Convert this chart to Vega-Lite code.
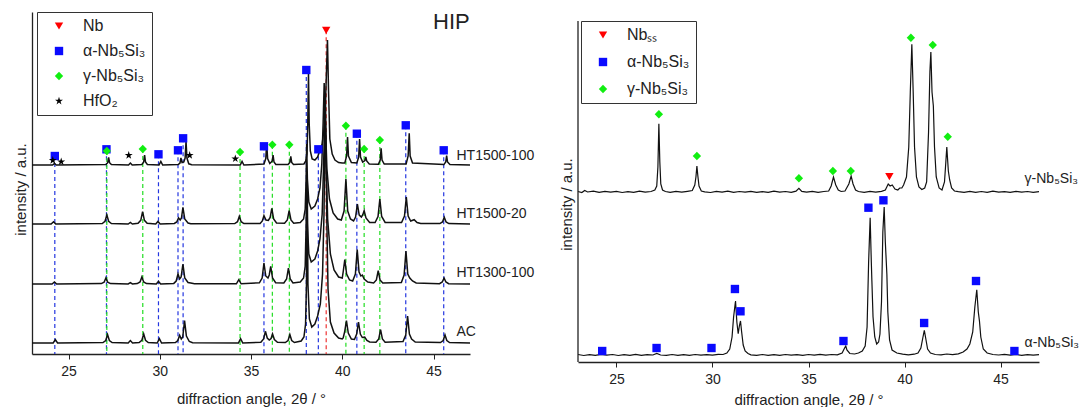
{
  "$schema": "https://vega.github.io/schema/vega-lite/v6.json",
  "background": "white",
  "padding": {"left": 13, "top": 11, "right": 0, "bottom": 0},
  "config": {
    "view": {"stroke": null},
    "font": "Liberation Sans",
    "axis": {"domainColor": "#222", "tickColor": "#222", "labelColor": "#222", "titleColor": "#222", "labelFontSize": 14, "titleFontSize": 15, "titleFontWeight": "normal", "grid": false, "domainWidth": 1.3, "tickWidth": 1, "tickSize": 5},
    "legend": {"strokeColor": "#333", "fillColor": "white", "padding": 6, "symbolOffset": 8, "labelOffset": 16, "rowPadding": 9, "labelFontSize": 16, "labelColor": "#222", "symbolSize": 70, "labelLimit": 200}
  },
  "datasets": {
    "leftCurves": [
      {"s":"HT1500-100","x":23,"v":189},{"s":"HT1500-100","x":24.13,"v":189},{"s":"HT1500-100","x":24.23,"v":190.5},{"s":"HT1500-100","x":24.33,"v":189},
      {"s":"HT1500-100","x":27.05,"v":189.4},{"s":"HT1500-100","x":27.15,"v":191.3},{"s":"HT1500-100","x":27.2,"v":196.6},{"s":"HT1500-100","x":27.25,"v":191.3},{"s":"HT1500-100","x":27.35,"v":189.4},
      {"s":"HT1500-100","x":28.29,"v":189},{"s":"HT1500-100","x":28.39,"v":191},{"s":"HT1500-100","x":28.49,"v":189},
      {"s":"HT1500-100","x":29.02,"v":189.5},{"s":"HT1500-100","x":29.12,"v":192},{"s":"HT1500-100","x":29.17,"v":199},{"s":"HT1500-100","x":29.22,"v":192},{"s":"HT1500-100","x":29.32,"v":189.5},
      {"s":"HT1500-100","x":29.96,"v":189},{"s":"HT1500-100","x":30.06,"v":192.6},{"s":"HT1500-100","x":30.16,"v":189},
      {"s":"HT1500-100","x":31.01,"v":189.4},{"s":"HT1500-100","x":31.11,"v":191},{"s":"HT1500-100","x":31.16,"v":196},{"s":"HT1500-100","x":31.22,"v":191.5},{"s":"HT1500-100","x":31.32,"v":192},{"s":"HT1500-100","x":31.39,"v":196},{"s":"HT1500-100","x":31.44,"v":212.6},{"s":"HT1500-100","x":31.49,"v":196},{"s":"HT1500-100","x":31.59,"v":190.2},{"s":"HT1500-100","x":31.75,"v":189.3},
      {"s":"HT1500-100","x":34.41,"v":189},{"s":"HT1500-100","x":34.51,"v":192.6},{"s":"HT1500-100","x":34.61,"v":189},
      {"s":"HT1500-100","x":35.71,"v":190},{"s":"HT1500-100","x":35.81,"v":195.5},{"s":"HT1500-100","x":35.86,"v":210.6},{"s":"HT1500-100","x":35.91,"v":195.5},{"s":"HT1500-100","x":36.03,"v":190.5},{"s":"HT1500-100","x":36.11,"v":192},{"s":"HT1500-100","x":36.16,"v":193},{"s":"HT1500-100","x":36.21,"v":199},{"s":"HT1500-100","x":36.26,"v":192},{"s":"HT1500-100","x":36.36,"v":189.5},
      {"s":"HT1500-100","x":37.03,"v":189.4},{"s":"HT1500-100","x":37.13,"v":191.6},{"s":"HT1500-100","x":37.18,"v":197.6},{"s":"HT1500-100","x":37.23,"v":191.6},{"s":"HT1500-100","x":37.33,"v":189.4},
      {"s":"HT1500-100","x":37.9,"v":190},{"s":"HT1500-100","x":38.0,"v":193},{"s":"HT1500-100","x":38.07,"v":200},{"s":"HT1500-100","x":38.11,"v":230},{"s":"HT1500-100","x":38.15,"v":280},{"s":"HT1500-100","x":38.19,"v":230},{"s":"HT1500-100","x":38.25,"v":203},{"s":"HT1500-100","x":38.35,"v":195},{"s":"HT1500-100","x":38.5,"v":194},{"s":"HT1500-100","x":38.65,"v":197},{"s":"HT1500-100","x":38.78,"v":204},{"s":"HT1500-100","x":38.9,"v":210},{"s":"HT1500-100","x":39.0,"v":225},{"s":"HT1500-100","x":39.1,"v":262},{"s":"HT1500-100","x":39.19,"v":314},{"s":"HT1500-100","x":39.25,"v":262},{"s":"HT1500-100","x":39.32,"v":215},{"s":"HT1500-100","x":39.45,"v":200},{"s":"HT1500-100","x":39.6,"v":194},{"s":"HT1500-100","x":39.8,"v":191.5},{"s":"HT1500-100","x":40.0,"v":191},
      {"s":"HT1500-100","x":40.14,"v":191},{"s":"HT1500-100","x":40.24,"v":198},{"s":"HT1500-100","x":40.29,"v":217},{"s":"HT1500-100","x":40.34,"v":198},{"s":"HT1500-100","x":40.5,"v":191.5},
      {"s":"HT1500-100","x":40.8,"v":191},{"s":"HT1500-100","x":40.9,"v":197},{"s":"HT1500-100","x":40.95,"v":215},{"s":"HT1500-100","x":41.0,"v":197},{"s":"HT1500-100","x":41.12,"v":192},{"s":"HT1500-100","x":41.24,"v":193.5},{"s":"HT1500-100","x":41.29,"v":197},{"s":"HT1500-100","x":41.34,"v":193},{"s":"HT1500-100","x":41.48,"v":190},
      {"s":"HT1500-100","x":41.98,"v":189.8},{"s":"HT1500-100","x":42.08,"v":194},{"s":"HT1500-100","x":42.13,"v":205.6},{"s":"HT1500-100","x":42.18,"v":194},{"s":"HT1500-100","x":42.3,"v":190},
      {"s":"HT1500-100","x":43.5,"v":190},{"s":"HT1500-100","x":43.61,"v":198},{"s":"HT1500-100","x":43.67,"v":220.6},{"s":"HT1500-100","x":43.72,"v":198},{"s":"HT1500-100","x":43.85,"v":191},
      {"s":"HT1500-100","x":45.57,"v":189.4},{"s":"HT1500-100","x":45.67,"v":192},{"s":"HT1500-100","x":45.72,"v":198.3},{"s":"HT1500-100","x":45.77,"v":192},{"s":"HT1500-100","x":45.9,"v":189.4},{"s":"HT1500-100","x":47,"v":189},

      {"s":"HT1500-20","x":23,"v":130},{"s":"HT1500-20","x":24.05,"v":130},{"s":"HT1500-20","x":24.18,"v":132.3},{"s":"HT1500-20","x":24.3,"v":130},
      {"s":"HT1500-20","x":26.85,"v":130.5},{"s":"HT1500-20","x":27.0,"v":132.7},{"s":"HT1500-20","x":27.1,"v":139},{"s":"HT1500-20","x":27.2,"v":132.7},{"s":"HT1500-20","x":27.35,"v":130.5},
      {"s":"HT1500-20","x":28.27,"v":130},{"s":"HT1500-20","x":28.39,"v":131.5},{"s":"HT1500-20","x":28.5,"v":130},
      {"s":"HT1500-20","x":28.81,"v":130.7},{"s":"HT1500-20","x":28.96,"v":133.7},{"s":"HT1500-20","x":29.06,"v":142.3},{"s":"HT1500-20","x":29.16,"v":133.7},{"s":"HT1500-20","x":29.31,"v":130.7},
      {"s":"HT1500-20","x":29.78,"v":130},{"s":"HT1500-20","x":29.9,"v":132.6},{"s":"HT1500-20","x":30.02,"v":130},
      {"s":"HT1500-20","x":30.8,"v":130.5},{"s":"HT1500-20","x":30.93,"v":132},{"s":"HT1500-20","x":31.03,"v":136},{"s":"HT1500-20","x":31.12,"v":134},{"s":"HT1500-20","x":31.19,"v":136},{"s":"HT1500-20","x":31.27,"v":146.6},{"s":"HT1500-20","x":31.37,"v":135},{"s":"HT1500-20","x":31.55,"v":131},{"s":"HT1500-20","x":31.7,"v":130.3},
      {"s":"HT1500-20","x":34.11,"v":130.4},{"s":"HT1500-20","x":34.26,"v":132.3},{"s":"HT1500-20","x":34.36,"v":137.6},{"s":"HT1500-20","x":34.46,"v":132.3},{"s":"HT1500-20","x":34.61,"v":130.4},
      {"s":"HT1500-20","x":35.5,"v":130.5},{"s":"HT1500-20","x":35.62,"v":133},{"s":"HT1500-20","x":35.71,"v":138.3},{"s":"HT1500-20","x":35.82,"v":134},{"s":"HT1500-20","x":35.95,"v":133.5},{"s":"HT1500-20","x":36.05,"v":136.5},{"s":"HT1500-20","x":36.14,"v":145.6},{"s":"HT1500-20","x":36.24,"v":135},{"s":"HT1500-20","x":36.4,"v":131},
      {"s":"HT1500-20","x":36.84,"v":130.8},{"s":"HT1500-20","x":36.99,"v":134},{"s":"HT1500-20","x":37.09,"v":143.3},{"s":"HT1500-20","x":37.19,"v":134},{"s":"HT1500-20","x":37.34,"v":130.8},
      {"s":"HT1500-20","x":37.7,"v":131.5},{"s":"HT1500-20","x":37.88,"v":135},{"s":"HT1500-20","x":37.97,"v":145},{"s":"HT1500-20","x":38.02,"v":175},{"s":"HT1500-20","x":38.05,"v":210},{"s":"HT1500-20","x":38.09,"v":175},{"s":"HT1500-20","x":38.17,"v":152},{"s":"HT1500-20","x":38.3,"v":145},{"s":"HT1500-20","x":38.5,"v":148},{"s":"HT1500-20","x":38.65,"v":155},{"s":"HT1500-20","x":38.78,"v":166},{"s":"HT1500-20","x":38.88,"v":190},{"s":"HT1500-20","x":38.95,"v":230},{"s":"HT1500-20","x":39.01,"v":271},{"s":"HT1500-20","x":39.08,"v":230},{"s":"HT1500-20","x":39.16,"v":185},{"s":"HT1500-20","x":39.3,"v":155},{"s":"HT1500-20","x":39.5,"v":141},{"s":"HT1500-20","x":39.75,"v":135},{"s":"HT1500-20","x":39.95,"v":134},
      {"s":"HT1500-20","x":40.1,"v":143},{"s":"HT1500-20","x":40.2,"v":175},{"s":"HT1500-20","x":40.3,"v":143},{"s":"HT1500-20","x":40.45,"v":135},
      {"s":"HT1500-20","x":40.62,"v":133},{"s":"HT1500-20","x":40.73,"v":137},{"s":"HT1500-20","x":40.83,"v":150},{"s":"HT1500-20","x":40.93,"v":139},{"s":"HT1500-20","x":41.05,"v":137},{"s":"HT1500-20","x":41.12,"v":139},{"s":"HT1500-20","x":41.2,"v":143.3},{"s":"HT1500-20","x":41.3,"v":136},{"s":"HT1500-20","x":41.5,"v":131.5},
      {"s":"HT1500-20","x":41.8,"v":131.5},{"s":"HT1500-20","x":41.96,"v":137.5},{"s":"HT1500-20","x":42.06,"v":155},{"s":"HT1500-20","x":42.16,"v":137.5},{"s":"HT1500-20","x":42.35,"v":131.5},
      {"s":"HT1500-20","x":43.25,"v":131.5},{"s":"HT1500-20","x":43.41,"v":138},{"s":"HT1500-20","x":43.51,"v":157},{"s":"HT1500-20","x":43.61,"v":138},{"s":"HT1500-20","x":43.75,"v":133},{"s":"HT1500-20","x":43.94,"v":134.3},{"s":"HT1500-20","x":44.1,"v":131.5},{"s":"HT1500-20","x":44.3,"v":130.5},
      {"s":"HT1500-20","x":45.35,"v":130.4},{"s":"HT1500-20","x":45.49,"v":132},{"s":"HT1500-20","x":45.59,"v":136.6},{"s":"HT1500-20","x":45.69,"v":132},{"s":"HT1500-20","x":45.84,"v":130.4},{"s":"HT1500-20","x":47,"v":130},

      {"s":"HT1300-100","x":23,"v":70},{"s":"HT1300-100","x":24.1,"v":70},{"s":"HT1300-100","x":24.23,"v":72},{"s":"HT1300-100","x":24.35,"v":70},
      {"s":"HT1300-100","x":26.8,"v":70.4},{"s":"HT1300-100","x":26.95,"v":71.8},{"s":"HT1300-100","x":27.05,"v":76},{"s":"HT1300-100","x":27.15,"v":71.8},{"s":"HT1300-100","x":27.3,"v":70.4},
      {"s":"HT1300-100","x":28.27,"v":70},{"s":"HT1300-100","x":28.39,"v":71.3},{"s":"HT1300-100","x":28.5,"v":70},
      {"s":"HT1300-100","x":28.77,"v":70.4},{"s":"HT1300-100","x":28.92,"v":72.1},{"s":"HT1300-100","x":29.02,"v":77},{"s":"HT1300-100","x":29.12,"v":72.1},{"s":"HT1300-100","x":29.27,"v":70.4},
      {"s":"HT1300-100","x":29.81,"v":70},{"s":"HT1300-100","x":29.93,"v":72.5},{"s":"HT1300-100","x":30.05,"v":70},
      {"s":"HT1300-100","x":30.77,"v":70.6},{"s":"HT1300-100","x":30.9,"v":73},{"s":"HT1300-100","x":31.0,"v":80},{"s":"HT1300-100","x":31.09,"v":75},{"s":"HT1300-100","x":31.17,"v":77},{"s":"HT1300-100","x":31.27,"v":90},{"s":"HT1300-100","x":31.37,"v":76},{"s":"HT1300-100","x":31.55,"v":71.5},{"s":"HT1300-100","x":31.7,"v":71},{"s":"HT1300-100","x":31.9,"v":70.3},
      {"s":"HT1300-100","x":34.2,"v":70.2},{"s":"HT1300-100","x":34.33,"v":74.3},{"s":"HT1300-100","x":34.46,"v":70.2},
      {"s":"HT1300-100","x":35.46,"v":71.2},{"s":"HT1300-100","x":35.61,"v":76},{"s":"HT1300-100","x":35.71,"v":91},{"s":"HT1300-100","x":35.81,"v":78},{"s":"HT1300-100","x":35.93,"v":76},{"s":"HT1300-100","x":36.0,"v":79},{"s":"HT1300-100","x":36.08,"v":87.6},{"s":"HT1300-100","x":36.18,"v":76},{"s":"HT1300-100","x":36.35,"v":71.3},
      {"s":"HT1300-100","x":36.8,"v":71},{"s":"HT1300-100","x":36.95,"v":75},{"s":"HT1300-100","x":37.05,"v":86},{"s":"HT1300-100","x":37.15,"v":75},{"s":"HT1300-100","x":37.3,"v":71},
      {"s":"HT1300-100","x":37.7,"v":72},{"s":"HT1300-100","x":37.88,"v":76},{"s":"HT1300-100","x":37.97,"v":88},{"s":"HT1300-100","x":38.02,"v":130},{"s":"HT1300-100","x":38.05,"v":175},{"s":"HT1300-100","x":38.09,"v":130},{"s":"HT1300-100","x":38.17,"v":100},{"s":"HT1300-100","x":38.3,"v":92},{"s":"HT1300-100","x":38.5,"v":95},{"s":"HT1300-100","x":38.65,"v":103},{"s":"HT1300-100","x":38.78,"v":115},{"s":"HT1300-100","x":38.9,"v":140},{"s":"HT1300-100","x":38.98,"v":190},{"s":"HT1300-100","x":39.05,"v":245},{"s":"HT1300-100","x":39.12,"v":190},{"s":"HT1300-100","x":39.2,"v":135},{"s":"HT1300-100","x":39.35,"v":100},{"s":"HT1300-100","x":39.55,"v":84},{"s":"HT1300-100","x":39.8,"v":77},{"s":"HT1300-100","x":40.0,"v":76},
      {"s":"HT1300-100","x":40.05,"v":82},{"s":"HT1300-100","x":40.14,"v":94.4},{"s":"HT1300-100","x":40.24,"v":80},{"s":"HT1300-100","x":40.4,"v":74},
      {"s":"HT1300-100","x":40.57,"v":73},{"s":"HT1300-100","x":40.72,"v":80},{"s":"HT1300-100","x":40.82,"v":104.4},{"s":"HT1300-100","x":40.92,"v":82},{"s":"HT1300-100","x":41.02,"v":78},{"s":"HT1300-100","x":41.1,"v":79},{"s":"HT1300-100","x":41.2,"v":75},{"s":"HT1300-100","x":41.4,"v":72},
      {"s":"HT1300-100","x":41.72,"v":71},{"s":"HT1300-100","x":41.87,"v":74},{"s":"HT1300-100","x":41.97,"v":83.4},{"s":"HT1300-100","x":42.07,"v":74},{"s":"HT1300-100","x":42.22,"v":71},
      {"s":"HT1300-100","x":43.24,"v":71.5},{"s":"HT1300-100","x":43.39,"v":79},{"s":"HT1300-100","x":43.49,"v":103},{"s":"HT1300-100","x":43.59,"v":80},{"s":"HT1300-100","x":43.7,"v":76},{"s":"HT1300-100","x":43.85,"v":73},{"s":"HT1300-100","x":44.05,"v":71},
      {"s":"HT1300-100","x":45.33,"v":70.3},{"s":"HT1300-100","x":45.48,"v":72},{"s":"HT1300-100","x":45.58,"v":76},{"s":"HT1300-100","x":45.68,"v":72},{"s":"HT1300-100","x":45.83,"v":70.3},{"s":"HT1300-100","x":47,"v":70},

      {"s":"AC","x":23,"v":11},{"s":"AC","x":24.16,"v":11},{"s":"AC","x":24.28,"v":14.3},{"s":"AC","x":24.4,"v":11},
      {"s":"AC","x":26.89,"v":11.5},{"s":"AC","x":27.04,"v":13.5},{"s":"AC","x":27.14,"v":19.4},{"s":"AC","x":27.24,"v":13.5},{"s":"AC","x":27.39,"v":11.5},
      {"s":"AC","x":28.27,"v":11},{"s":"AC","x":28.39,"v":13.4},{"s":"AC","x":28.51,"v":11},
      {"s":"AC","x":28.87,"v":11.5},{"s":"AC","x":29.02,"v":13.7},{"s":"AC","x":29.12,"v":20},{"s":"AC","x":29.22,"v":13.7},{"s":"AC","x":29.37,"v":11.5},
      {"s":"AC","x":29.86,"v":11},{"s":"AC","x":29.98,"v":15.4},{"s":"AC","x":30.1,"v":11},
      {"s":"AC","x":30.86,"v":11.5},{"s":"AC","x":30.99,"v":13.5},{"s":"AC","x":31.09,"v":18.7},{"s":"AC","x":31.18,"v":15},{"s":"AC","x":31.26,"v":17},{"s":"AC","x":31.36,"v":33.4},{"s":"AC","x":31.46,"v":18},{"s":"AC","x":31.62,"v":12.5},{"s":"AC","x":31.8,"v":11.3},
      {"s":"AC","x":34.31,"v":11},{"s":"AC","x":34.43,"v":15.4},{"s":"AC","x":34.55,"v":11},
      {"s":"AC","x":35.54,"v":11.7},{"s":"AC","x":35.69,"v":15},{"s":"AC","x":35.79,"v":22.7},{"s":"AC","x":35.89,"v":16},{"s":"AC","x":36.0,"v":14},{"s":"AC","x":36.1,"v":15.5},{"s":"AC","x":36.18,"v":20},{"s":"AC","x":36.28,"v":14.5},{"s":"AC","x":36.45,"v":11.7},
      {"s":"AC","x":36.88,"v":11.5},{"s":"AC","x":37.03,"v":13.5},{"s":"AC","x":37.13,"v":19.4},{"s":"AC","x":37.23,"v":13.5},{"s":"AC","x":37.38,"v":11.5},
      {"s":"AC","x":37.75,"v":13},{"s":"AC","x":37.9,"v":17},{"s":"AC","x":37.99,"v":30},{"s":"AC","x":38.04,"v":70},{"s":"AC","x":38.08,"v":180},{"s":"AC","x":38.12,"v":70},{"s":"AC","x":38.2,"v":35},{"s":"AC","x":38.33,"v":27},{"s":"AC","x":38.5,"v":30},{"s":"AC","x":38.65,"v":38},{"s":"AC","x":38.8,"v":50},{"s":"AC","x":38.92,"v":80},{"s":"AC","x":39.0,"v":140},{"s":"AC","x":39.08,"v":260},{"s":"AC","x":39.15,"v":140},{"s":"AC","x":39.22,"v":65},{"s":"AC","x":39.35,"v":32},{"s":"AC","x":39.55,"v":21},{"s":"AC","x":39.8,"v":16},{"s":"AC","x":40.0,"v":15},
      {"s":"AC","x":40.05,"v":16},{"s":"AC","x":40.13,"v":22},{"s":"AC","x":40.23,"v":33.4},{"s":"AC","x":40.33,"v":21},{"s":"AC","x":40.5,"v":15},
      {"s":"AC","x":40.67,"v":14.5},{"s":"AC","x":40.79,"v":20},{"s":"AC","x":40.89,"v":32},{"s":"AC","x":40.99,"v":20},{"s":"AC","x":41.1,"v":16.5},{"s":"AC","x":41.23,"v":17},{"s":"AC","x":41.35,"v":13.5},{"s":"AC","x":41.5,"v":12},
      {"s":"AC","x":41.85,"v":11.8},{"s":"AC","x":42.0,"v":15},{"s":"AC","x":42.1,"v":24.4},{"s":"AC","x":42.2,"v":15},{"s":"AC","x":42.35,"v":11.8},
      {"s":"AC","x":43.33,"v":12.5},{"s":"AC","x":43.48,"v":19},{"s":"AC","x":43.58,"v":38},{"s":"AC","x":43.68,"v":20},{"s":"AC","x":43.8,"v":15},{"s":"AC","x":44.0,"v":12},
      {"s":"AC","x":45.38,"v":11.5},{"s":"AC","x":45.53,"v":13.5},{"s":"AC","x":45.63,"v":19},{"s":"AC","x":45.73,"v":13.5},{"s":"AC","x":45.88,"v":11.5},{"s":"AC","x":47,"v":11}
    ],
    "leftPhases": [
      {"phase":"α-Nb₅Si₃","x":24.25,"v":198},{"phase":"α-Nb₅Si₃","x":27.08,"v":204.7},{"phase":"α-Nb₅Si₃","x":29.93,"v":199.7},{"phase":"α-Nb₅Si₃","x":31.0,"v":203.7},{"phase":"α-Nb₅Si₃","x":31.28,"v":215.7},{"phase":"α-Nb₅Si₃","x":35.71,"v":207.7},{"phase":"α-Nb₅Si₃","x":38.03,"v":284},{"phase":"α-Nb₅Si₃","x":38.69,"v":204.7},{"phase":"α-Nb₅Si₃","x":40.8,"v":220.3},{"phase":"α-Nb₅Si₃","x":43.48,"v":228.7},{"phase":"α-Nb₅Si₃","x":45.56,"v":203.7},
      {"phase":"γ-Nb₅Si₃","x":27.1,"v":203},{"phase":"γ-Nb₅Si₃","x":29.07,"v":205},{"phase":"γ-Nb₅Si₃","x":34.4,"v":202},{"phase":"γ-Nb₅Si₃","x":36.17,"v":209.3},{"phase":"γ-Nb₅Si₃","x":37.1,"v":209.3},{"phase":"γ-Nb₅Si₃","x":40.2,"v":228.3},{"phase":"γ-Nb₅Si₃","x":41.2,"v":205},{"phase":"γ-Nb₅Si₃","x":42.06,"v":214},
      {"phase":"HfO₂","x":24.14,"v":193.7},{"phase":"HfO₂","x":24.6,"v":192.3},{"phase":"HfO₂","x":28.3,"v":198.7},{"phase":"HfO₂","x":31.64,"v":198.7},{"phase":"HfO₂","x":34.14,"v":195.3},
      {"phase":"Nb","x":39.12,"v":323.7}
    ],
    "leftLabels": [
      {"label":"HT1500-100","x":46.26,"v":198},
      {"label":"HT1500-20","x":46.26,"v":140},
      {"label":"HT1300-100","x":46.26,"v":81},
      {"label":"AC","x":46.26,"v":22}
    ],
    "rightCurves": [
      {"s":"γ","x":23.0,"v":170.5},{"s":"γ","x":23.2,"v":169.5},{"s":"γ","x":23.35,"v":171.5},{"s":"γ","x":23.5,"v":170},{"s":"γ","x":23.8,"v":170.8},{"s":"γ","x":24.1,"v":169.6},{"s":"γ","x":24.4,"v":170.6},{"s":"γ","x":24.7,"v":169.8},{"s":"γ","x":25.0,"v":170.7},{"s":"γ","x":25.3,"v":169.5},{"s":"γ","x":25.6,"v":170.4},{"s":"γ","x":25.9,"v":169.7},{"s":"γ","x":26.2,"v":170.9},{"s":"γ","x":26.5,"v":169.8},{"s":"γ","x":26.8,"v":170.5},
      {"s":"γ","x":27.0,"v":172},{"s":"γ","x":27.1,"v":176},{"s":"γ","x":27.16,"v":195},{"s":"γ","x":27.21,"v":238.3},{"s":"γ","x":27.26,"v":200},{"s":"γ","x":27.31,"v":178},{"s":"γ","x":27.4,"v":172},{"s":"γ","x":27.55,"v":170.5},{"s":"γ","x":27.8,"v":169.6},{"s":"γ","x":28.1,"v":170.6},{"s":"γ","x":28.4,"v":169.8},{"s":"γ","x":28.7,"v":170.7},
      {"s":"γ","x":28.95,"v":171.5},{"s":"γ","x":29.08,"v":177},{"s":"γ","x":29.14,"v":185},{"s":"γ","x":29.19,"v":196},{"s":"γ","x":29.24,"v":186},{"s":"γ","x":29.3,"v":176},{"s":"γ","x":29.42,"v":171},{"s":"γ","x":29.6,"v":170.2},{"s":"γ","x":29.9,"v":169.5},{"s":"γ","x":30.2,"v":170.6},{"s":"γ","x":30.5,"v":169.8},{"s":"γ","x":30.8,"v":170.8},{"s":"γ","x":31.1,"v":169.6},{"s":"γ","x":31.4,"v":170.5},{"s":"γ","x":31.7,"v":169.9},{"s":"γ","x":32.0,"v":170.7},{"s":"γ","x":32.3,"v":169.6},{"s":"γ","x":32.6,"v":170.4},{"s":"γ","x":32.9,"v":169.7},{"s":"γ","x":33.2,"v":170.8},{"s":"γ","x":33.5,"v":169.8},{"s":"γ","x":33.8,"v":170.5},{"s":"γ","x":34.1,"v":169.7},
      {"s":"γ","x":34.35,"v":170.8},{"s":"γ","x":34.5,"v":173.7},{"s":"γ","x":34.65,"v":170.6},{"s":"γ","x":34.9,"v":169.8},{"s":"γ","x":35.2,"v":170.6},{"s":"γ","x":35.5,"v":169.7},{"s":"γ","x":35.8,"v":170.5},
      {"s":"γ","x":36.05,"v":171},{"s":"γ","x":36.18,"v":176},{"s":"γ","x":36.3,"v":185},{"s":"γ","x":36.42,"v":177},{"s":"γ","x":36.55,"v":172},{"s":"γ","x":36.7,"v":170.5},{"s":"γ","x":36.9,"v":171},{"s":"γ","x":37.1,"v":178},{"s":"γ","x":37.22,"v":186},{"s":"γ","x":37.32,"v":178},{"s":"γ","x":37.45,"v":172},{"s":"γ","x":37.6,"v":170.5},{"s":"γ","x":37.9,"v":169.7},{"s":"γ","x":38.2,"v":170.6},{"s":"γ","x":38.5,"v":169.8},{"s":"γ","x":38.8,"v":170.7},
      {"s":"γ","x":39.0,"v":172},{"s":"γ","x":39.15,"v":178},{"s":"γ","x":39.25,"v":176},{"s":"γ","x":39.36,"v":177},{"s":"γ","x":39.5,"v":173},{"s":"γ","x":39.65,"v":172},{"s":"γ","x":39.75,"v":174},{"s":"γ","x":39.86,"v":174},{"s":"γ","x":39.95,"v":177},
      {"s":"γ","x":40.1,"v":185},{"s":"γ","x":40.22,"v":215},{"s":"γ","x":40.3,"v":270},{"s":"γ","x":40.38,"v":317.7},{"s":"γ","x":40.45,"v":270},{"s":"γ","x":40.52,"v":215},{"s":"γ","x":40.62,"v":185},{"s":"γ","x":40.75,"v":175},{"s":"γ","x":40.9,"v":172.5},{"s":"γ","x":41.05,"v":174},{"s":"γ","x":41.15,"v":180},{"s":"γ","x":41.25,"v":230},{"s":"γ","x":41.32,"v":290},{"s":"γ","x":41.37,"v":310},{"s":"γ","x":41.43,"v":270},{"s":"γ","x":41.5,"v":256},{"s":"γ","x":41.56,"v":215},{"s":"γ","x":41.65,"v":185},{"s":"γ","x":41.8,"v":174},{"s":"γ","x":41.95,"v":172},
      {"s":"γ","x":42.08,"v":180},{"s":"γ","x":42.15,"v":200},{"s":"γ","x":42.2,"v":215},{"s":"γ","x":42.25,"v":200},{"s":"γ","x":42.28,"v":191},{"s":"γ","x":42.35,"v":182},{"s":"γ","x":42.45,"v":174},{"s":"γ","x":42.6,"v":171},{"s":"γ","x":42.8,"v":170.3},{"s":"γ","x":43.1,"v":169.6},{"s":"γ","x":43.4,"v":170.6},{"s":"γ","x":43.7,"v":169.7},{"s":"γ","x":44.0,"v":170.5},{"s":"γ","x":44.3,"v":169.6},{"s":"γ","x":44.6,"v":170.8},{"s":"γ","x":44.9,"v":169.8},{"s":"γ","x":45.2,"v":170.4},{"s":"γ","x":45.5,"v":169.6},{"s":"γ","x":45.8,"v":170.7},{"s":"γ","x":46.1,"v":169.8},{"s":"γ","x":46.4,"v":170.5},{"s":"γ","x":46.7,"v":169.7},{"s":"γ","x":47.0,"v":170.3},

      {"s":"α","x":23.0,"v":7.5},{"s":"α","x":23.3,"v":6.5},{"s":"α","x":23.6,"v":7.4},{"s":"α","x":23.9,"v":6.6},{"s":"α","x":24.2,"v":7.6},{"s":"α","x":24.5,"v":6.8},{"s":"α","x":24.8,"v":7.5},{"s":"α","x":25.1,"v":6.5},{"s":"α","x":25.4,"v":7.3},{"s":"α","x":25.7,"v":6.7},{"s":"α","x":26.0,"v":7.6},{"s":"α","x":26.3,"v":6.6},{"s":"α","x":26.6,"v":7.4},{"s":"α","x":26.9,"v":7},{"s":"α","x":27.1,"v":8.5},{"s":"α","x":27.3,"v":7},{"s":"α","x":27.6,"v":6.6},{"s":"α","x":27.9,"v":7.5},{"s":"α","x":28.2,"v":6.7},{"s":"α","x":28.5,"v":7.4},{"s":"α","x":28.8,"v":6.6},{"s":"α","x":29.1,"v":7.5},{"s":"α","x":29.4,"v":6.8},{"s":"α","x":29.7,"v":7.4},{"s":"α","x":30.0,"v":6.8},{"s":"α","x":30.3,"v":7.6},
      {"s":"α","x":30.55,"v":7.5},{"s":"α","x":30.75,"v":9},{"s":"α","x":30.9,"v":13},{"s":"α","x":31.02,"v":25},{"s":"α","x":31.1,"v":45},{"s":"α","x":31.2,"v":61},{"s":"α","x":31.27,"v":40},{"s":"α","x":31.34,"v":28.3},{"s":"α","x":31.4,"v":36},{"s":"α","x":31.46,"v":41},{"s":"α","x":31.52,"v":30},{"s":"α","x":31.6,"v":17},{"s":"α","x":31.7,"v":11},{"s":"α","x":31.85,"v":8.5},{"s":"α","x":32.0,"v":7.2},
      {"s":"α","x":32.3,"v":6.6},{"s":"α","x":32.6,"v":7.5},{"s":"α","x":32.9,"v":6.7},{"s":"α","x":33.2,"v":7.4},{"s":"α","x":33.5,"v":6.6},{"s":"α","x":33.8,"v":7.5},{"s":"α","x":34.1,"v":6.8},{"s":"α","x":34.4,"v":7.4},{"s":"α","x":34.7,"v":6.7},{"s":"α","x":35.0,"v":7.5},{"s":"α","x":35.3,"v":6.8},{"s":"α","x":35.6,"v":7.6},{"s":"α","x":35.9,"v":6.8},{"s":"α","x":36.2,"v":7.5},{"s":"α","x":36.5,"v":7.2},
      {"s":"α","x":36.75,"v":9},{"s":"α","x":36.88,"v":14},{"s":"α","x":36.94,"v":16},{"s":"α","x":37.0,"v":12},{"s":"α","x":37.15,"v":8.5},{"s":"α","x":37.4,"v":8},{"s":"α","x":37.6,"v":9},{"s":"α","x":37.8,"v":11},{"s":"α","x":37.95,"v":16},{"s":"α","x":38.05,"v":35},{"s":"α","x":38.13,"v":100},{"s":"α","x":38.21,"v":144.3},{"s":"α","x":38.27,"v":100},{"s":"α","x":38.3,"v":81},{"s":"α","x":38.36,"v":45},{"s":"α","x":38.45,"v":25},{"s":"α","x":38.55,"v":18},{"s":"α","x":38.65,"v":20},{"s":"α","x":38.72,"v":28},{"s":"α","x":38.8,"v":60},{"s":"α","x":38.87,"v":130},{"s":"α","x":38.94,"v":155},{"s":"α","x":39.0,"v":120},{"s":"α","x":39.08,"v":87.7},{"s":"α","x":39.13,"v":50},{"s":"α","x":39.22,"v":22},{"s":"α","x":39.35,"v":12},{"s":"α","x":39.6,"v":9},{"s":"α","x":39.9,"v":7.8},{"s":"α","x":40.2,"v":7.2},{"s":"α","x":40.5,"v":7.8},
      {"s":"α","x":40.7,"v":9},{"s":"α","x":40.85,"v":14},{"s":"α","x":40.96,"v":25},{"s":"α","x":41.03,"v":31.7},{"s":"α","x":41.1,"v":24},{"s":"α","x":41.2,"v":13},{"s":"α","x":41.35,"v":9},{"s":"α","x":41.6,"v":7.5},{"s":"α","x":41.9,"v":7.2},{"s":"α","x":42.2,"v":8},{"s":"α","x":42.5,"v":7.4},{"s":"α","x":42.8,"v":8.2},
      {"s":"α","x":43.05,"v":10},{"s":"α","x":43.25,"v":13},{"s":"α","x":43.4,"v":18},{"s":"α","x":43.55,"v":30},{"s":"α","x":43.66,"v":55},{"s":"α","x":43.76,"v":72.3},{"s":"α","x":43.84,"v":50},{"s":"α","x":43.9,"v":41},{"s":"α","x":43.97,"v":25},{"s":"α","x":44.1,"v":13},{"s":"α","x":44.3,"v":9},{"s":"α","x":44.6,"v":7.5},{"s":"α","x":44.9,"v":7},{"s":"α","x":45.2,"v":7.6},{"s":"α","x":45.5,"v":6.8},{"s":"α","x":45.8,"v":7.5},{"s":"α","x":46.1,"v":6.7},{"s":"α","x":46.4,"v":7.4},{"s":"α","x":46.7,"v":6.8},{"s":"α","x":47.0,"v":7.3}
    ],
    "rightPhases": [
      {"phase":"α-Nb₅Si₃","x":24.26,"v":11},{"phase":"α-Nb₅Si₃","x":27.09,"v":14},{"phase":"α-Nb₅Si₃","x":29.95,"v":14},{"phase":"α-Nb₅Si₃","x":31.17,"v":73},{"phase":"α-Nb₅Si₃","x":31.46,"v":50.7},{"phase":"α-Nb₅Si₃","x":36.82,"v":21},{"phase":"α-Nb₅Si₃","x":38.12,"v":154.3},{"phase":"α-Nb₅Si₃","x":38.9,"v":161.7},{"phase":"α-Nb₅Si₃","x":41.02,"v":39},{"phase":"α-Nb₅Si₃","x":43.72,"v":81},{"phase":"α-Nb₅Si₃","x":45.72,"v":11},
      {"phase":"γ-Nb₅Si₃","x":27.21,"v":247.7},{"phase":"γ-Nb₅Si₃","x":29.19,"v":206},{"phase":"γ-Nb₅Si₃","x":34.5,"v":183.7},{"phase":"γ-Nb₅Si₃","x":36.27,"v":191},{"phase":"γ-Nb₅Si₃","x":37.2,"v":191},{"phase":"γ-Nb₅Si₃","x":40.33,"v":324.3},{"phase":"γ-Nb₅Si₃","x":41.47,"v":317},{"phase":"γ-Nb₅Si₃","x":42.25,"v":225.3},
      {"phase":"Nbₛₛ","x":39.21,"v":185.3}
    ],
    "rightLabels": [
      {"label":"γ-Nb₅Si₃","x":46.25,"v":183.3},
      {"label":"α-Nb₅Si₃","x":46.25,"v":19}
    ],
    "rightAxisLine": [
      {"x0":23,"y0":0,"y1":341}
    ]
  },
  "bounds": "flush",
  "spacing": 108,
  "resolve": {"scale": {"color": "independent", "shape": "independent"}},
  "hconcat": [
    {
      "width": 438,
      "height": 342,
      "layer": [
        {
          "data": {"name": "leftPhases"},
          "transform": [{"filter": {"field": "phase", "equal": "α-Nb₅Si₃"}}, {"calculate": "0", "as": "base"}],
          "mark": {"type": "rule", "color": "#2436e0", "strokeDash": [4, 3], "strokeWidth": 1.2},
          "encoding": {
            "x": {"field": "x", "type": "quantitative", "scale": {"domain": [23, 47], "nice": false, "zero": false},
                  "axis": {"values": [25, 30, 35, 40, 45], "labelPadding": 5, "titlePadding": 13},
                  "title": "diffraction angle, 2θ / °"},
            "y": {"field": "v", "type": "quantitative", "scale": {"domain": [0, 342], "nice": false, "zero": false},
                  "axis": {"ticks": false, "labels": false, "titlePadding": 4, "titleY": 177}, "title": "intensity / a.u."},
            "y2": {"field": "base"}
          }
        },
        {
          "data": {"name": "leftPhases"},
          "transform": [{"filter": {"field": "phase", "equal": "γ-Nb₅Si₃"}}, {"calculate": "0", "as": "base"}],
          "mark": {"type": "rule", "color": "#22dd22", "strokeDash": [4, 3], "strokeWidth": 1.2},
          "encoding": {"x": {"field": "x", "type": "quantitative"}, "y": {"field": "v", "type": "quantitative"}, "y2": {"field": "base"}}
        },
        {
          "data": {"name": "leftPhases"},
          "transform": [{"filter": {"field": "phase", "equal": "Nb"}}, {"calculate": "0", "as": "base"}],
          "mark": {"type": "rule", "color": "#ee3333", "strokeDash": [4, 3], "strokeWidth": 1.2},
          "encoding": {"x": {"field": "x", "type": "quantitative"}, "y": {"field": "v", "type": "quantitative"}, "y2": {"field": "base"}}
        },
        {
          "data": {"name": "leftCurves"},
          "mark": {"type": "line", "color": "#111", "strokeWidth": 1.5},
          "encoding": {
            "x": {"field": "x", "type": "quantitative"},
            "y": {"field": "v", "type": "quantitative"},
            "detail": {"field": "s", "type": "nominal"}
          }
        },
        {
          "data": {"name": "leftPhases"},
          "mark": {"type": "point", "filled": true, "opacity": 1, "size": 70},
          "encoding": {
            "x": {"field": "x", "type": "quantitative"},
            "y": {"field": "v", "type": "quantitative"},
            "color": {"field": "phase", "type": "nominal", "scale": {"domain": ["Nb", "α-Nb₅Si₃", "γ-Nb₅Si₃", "HfO₂"], "range": ["#ff0000", "#0a0aff", "#11ee11", "#000000"]}, "legend": {"title": null, "orient": "none", "legendX": 5, "legendY": 0}},
            "shape": {"field": "phase", "type": "nominal", "scale": {"domain": ["Nb", "α-Nb₅Si₃", "γ-Nb₅Si₃", "HfO₂"], "range": ["triangle-down", "square", "diamond", "M0,-1L0.225,-0.309L0.951,-0.309L0.363,0.118L0.588,0.809L0,0.382L-0.588,0.809L-0.363,0.118L-0.951,-0.309L-0.225,-0.309Z"]}, "legend": {"title": null, "orient": "none", "legendX": 5, "legendY": 0}}
          }
        },
        {
          "data": {"name": "leftLabels"},
          "mark": {"type": "text", "align": "left", "baseline": "middle", "fontSize": 14, "color": "#222"},
          "encoding": {"x": {"field": "x", "type": "quantitative"}, "y": {"field": "v", "type": "quantitative"}, "text": {"field": "label", "type": "nominal"}}
        },
        {
          "data": {"values": [{"t": "HIP", "x": 45.98, "v": 332}]},
          "mark": {"type": "text", "align": "center", "baseline": "middle", "fontSize": 22, "color": "#222"},
          "encoding": {"x": {"field": "x", "type": "quantitative"}, "y": {"field": "v", "type": "quantitative"}, "text": {"field": "t", "type": "nominal"}}
        }
      ]
    },
    {
      "width": 461,
      "height": 350,
      "layer": [
        {
          "data": {"name": "rightCurves"},
          "mark": {"type": "line", "color": "#111", "strokeWidth": 1.2},
          "encoding": {
            "x": {"field": "x", "type": "quantitative", "scale": {"domain": [23, 47], "nice": false, "zero": false},
                  "axis": {"values": [25, 30, 35, 40, 45], "labelPadding": 5, "titlePadding": 6},
                  "title": "diffraction angle, 2θ / °"},
            "y": {"field": "v", "type": "quantitative", "scale": {"domain": [0, 350], "nice": false, "zero": false},
                  "axis": {"domain": false, "ticks": false, "labels": false, "titlePadding": 4, "titleY": 192}, "title": "intensity / a.u."},
            "detail": {"field": "s", "type": "nominal"}
          }
        },
        {
          "data": {"name": "rightAxisLine"},
          "mark": {"type": "rule", "color": "#222", "strokeWidth": 1.3},
          "encoding": {"x": {"field": "x0", "type": "quantitative"}, "y": {"field": "y1", "type": "quantitative"}, "y2": {"field": "y0"}}
        },
        {
          "data": {"name": "rightPhases"},
          "mark": {"type": "point", "filled": true, "opacity": 1, "size": 70},
          "encoding": {
            "x": {"field": "x", "type": "quantitative"},
            "y": {"field": "v", "type": "quantitative"},
            "color": {"field": "phase", "type": "nominal", "scale": {"domain": ["Nbₛₛ", "α-Nb₅Si₃", "γ-Nb₅Si₃"], "range": ["#ff0000", "#0a0aff", "#11ee11"]}, "legend": {"title": null, "orient": "none", "legendX": 3, "legendY": 9, "rowPadding": 11}},
            "shape": {"field": "phase", "type": "nominal", "scale": {"domain": ["Nbₛₛ", "α-Nb₅Si₃", "γ-Nb₅Si₃"], "range": ["triangle-down", "square", "diamond"]}, "legend": {"title": null, "orient": "none", "legendX": 3, "legendY": 9, "rowPadding": 11}}
          }
        },
        {
          "data": {"name": "rightLabels"},
          "mark": {"type": "text", "align": "left", "baseline": "middle", "fontSize": 14, "color": "#222"},
          "encoding": {"x": {"field": "x", "type": "quantitative"}, "y": {"field": "v", "type": "quantitative"}, "text": {"field": "label", "type": "nominal"}}
        }
      ]
    }
  ]
}
